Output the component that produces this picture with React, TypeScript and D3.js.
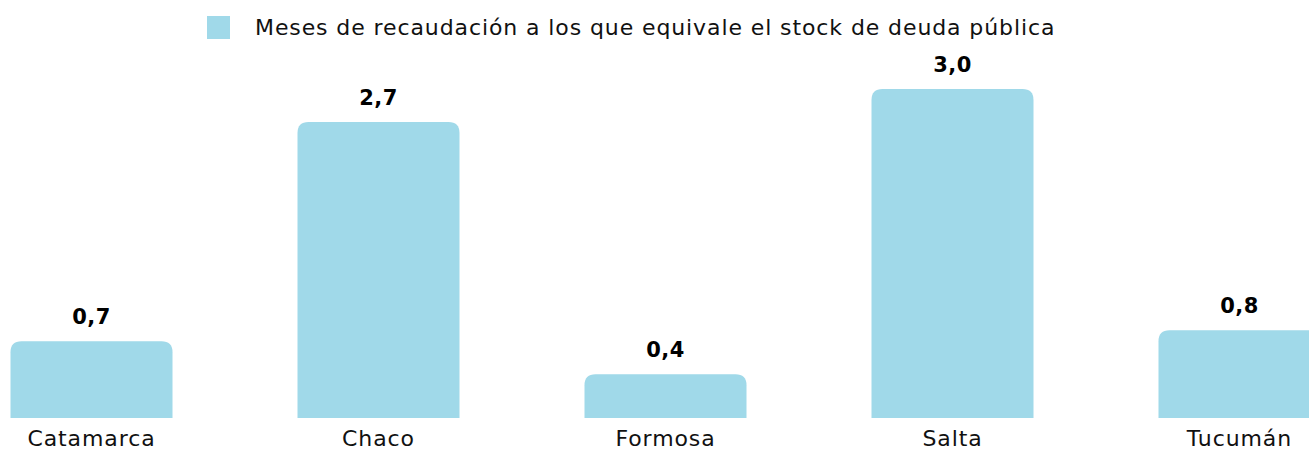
import React from 'react';
import * as d3 from 'd3';

const categories = ['Catamarca', 'Chaco', 'Formosa', 'Salta', 'Tucumán'];
const values = [0.7, 2.7, 0.4, 3.0, 0.8];
const legendLabel = 'Meses de recaudación a los que equivale el stock de deuda pública';

const width = 1309;
const height = 452;
const barColor = '#a0d9e9';
const font = '"DejaVu Sans", sans-serif';

// bar path with rounded top corners only
function topRoundedBar(x: number, y: number, w: number, h: number, r: number) {
    const rr = Math.min(r, h, w / 2);
    return `M${x},${y + h}V${y + rr}Q${x},${y} ${x + rr},${y}H${x + w - rr}Q${x + w},${y} ${x + w},${y + rr}V${y + h}Z`;
}

export default function App() {
    const x = d3.scaleBand<string>()
        .domain(categories)
        .range([10.5, 1320.5])
        .paddingInner(0.4355)
        .paddingOuter(0);

    const y = d3.scaleLinear().domain([0, 3]).range([418, 89]);

    const fmt = (v: number) => d3.format('.1f')(v).replace('.', ',');

    return (
        <svg width={width} height={height}
            style={{ position: 'absolute', left: 0, top: 0, background: '#fff' }}>
            <g>
                <rect x={207} y={16} width={23} height={23} fill={barColor} />
                <text x={255} y={35} fontFamily={font} fontSize={22} letterSpacing={0.9} fill="#111">{legendLabel}</text>
            </g>
            {categories.map((c, i) => {
                const bx = x(c)!;
                const bw = x.bandwidth();
                const top = y(values[i]);
                return (
                    <g key={c}>
                        <path d={topRoundedBar(bx, top, bw, y(0) - top, 11)} fill={barColor} />
                        <text x={bx + bw / 2} y={top - 17} textAnchor="middle"
                            fontFamily={font} fontWeight="bold" fontSize={21} letterSpacing={0.5} fill="#000">
                            {fmt(values[i])}
                        </text>
                        <text x={bx + bw / 2} y={446} textAnchor="middle"
                            fontFamily={font} fontSize={22} letterSpacing={0.9} fill="#111">
                            {c}
                        </text>
                    </g>
                );
            })}
        </svg>
    );
}
